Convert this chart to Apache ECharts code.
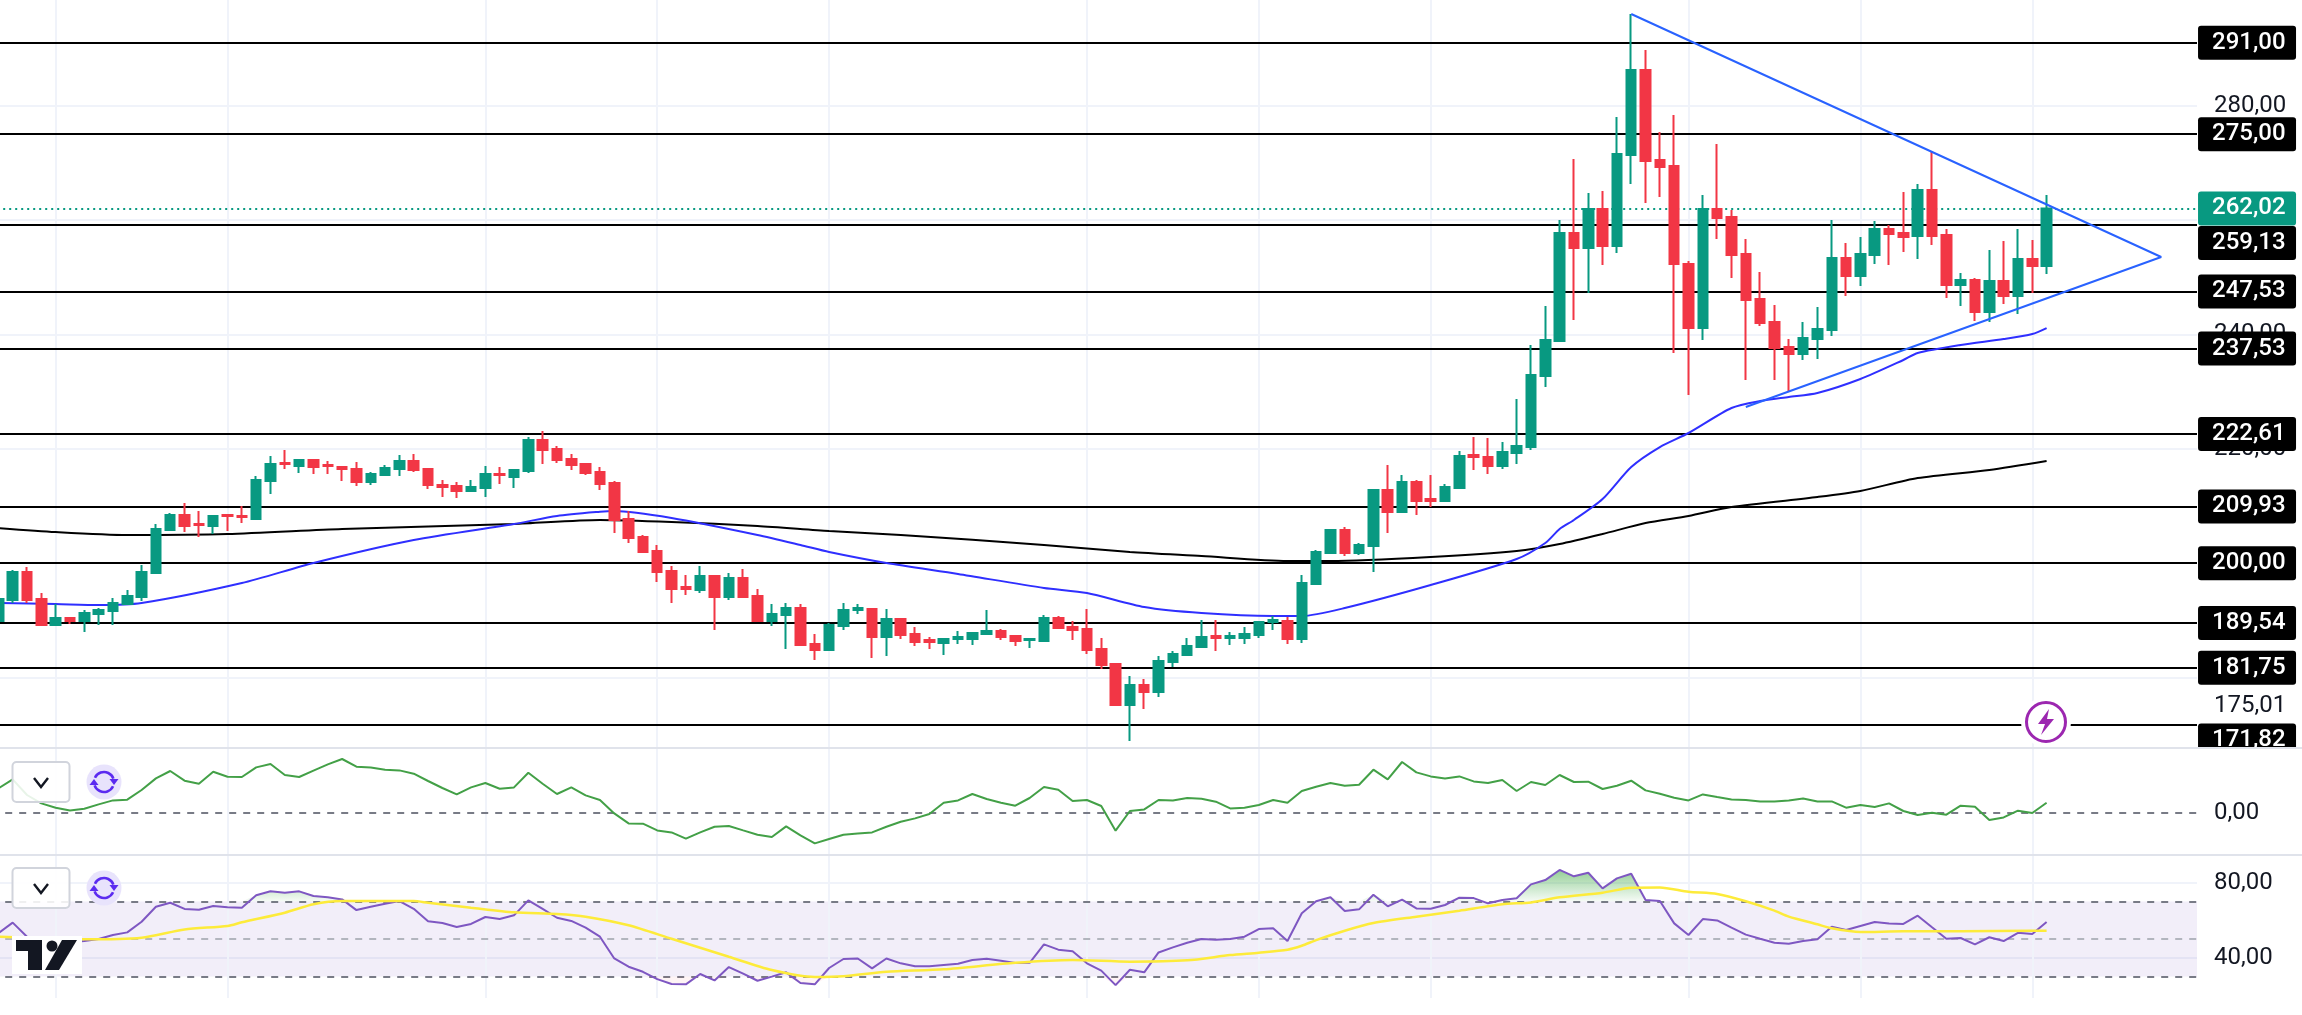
<!DOCTYPE html>
<html>
<head>
<meta charset="utf-8">
<style>html,body{margin:0;padding:0;background:#fff}#c{width:2302px;height:1015px}</style>
<script src="https://cdn.jsdelivr.net/npm/echarts@6/dist/echarts.min.js"></script>
</head>
<body>
<div id="c"></div>
<script>
const categories = Array.from({length:154},(_, i)=>String(i+1));
const opens = [189.90,193.57,198.47,193.75,189.20,190.42,189.90,191.12,191.65,192.87,194.10,198.29,205.81,208.43,206.86,206.51,208.43,208.26,207.73,214.38,
217.52,217.00,218.05,217.17,216.82,216.47,214.20,215.43,216.47,217.87,216.47,213.68,213.50,212.63,213.15,215.60,215.08,216.12,221.55,219.97,
218.23,217.35,215.95,214.03,207.73,204.59,202.14,198.64,195.84,195.32,197.77,194.10,197.42,194.27,189.90,190.95,192.17,185.88,184.83,189.03,
191.82,192.00,187.10,190.25,187.63,186.58,186.05,186.75,186.75,187.63,188.15,187.28,186.58,186.40,190.42,188.85,188.50,185.00,182.38,175.21,
178.71,177.49,182.73,183.95,185.35,187.28,186.93,186.93,187.45,189.72,189.90,186.75,196.37,201.79,205.81,201.79,203.01,212.80,208.96,214.20,
211.23,210.88,213.15,218.93,218.58,217.00,219.27,220.32,232.73,238.85,257.73,255.11,261.93,255.46,271.37,286.23,270.50,269.45,252.31,241.13,
261.93,260.53,254.06,246.20,242.17,237.80,236.58,239.20,240.78,253.36,250.22,253.89,258.43,257.73,257.21,265.25,257.38,248.64,249.52,243.92,
249.34,246.72,253.19,251.97];
const closes = [193.75,198.47,193.57,189.20,190.42,189.90,191.30,191.82,193.05,194.27,198.47,205.99,208.43,206.51,206.69,208.26,208.26,208.08,214.55,217.35,
217.35,218.05,216.82,217.00,216.47,214.20,215.60,216.65,217.87,216.30,213.68,213.33,212.63,213.33,215.60,215.43,216.30,221.55,219.80,218.05,
217.17,215.78,213.85,207.56,204.41,201.96,198.47,195.49,195.49,197.77,194.10,197.42,194.10,189.90,191.12,192.17,185.70,184.83,189.20,191.82,
192.17,187.10,190.25,187.45,186.23,186.23,186.75,187.10,187.80,188.15,187.10,186.40,186.75,190.42,188.68,188.33,184.83,182.20,175.21,178.71,
177.49,182.90,184.13,185.53,187.10,186.93,187.28,187.63,189.72,190.07,186.75,196.54,201.96,205.81,201.79,203.19,212.80,208.96,214.20,210.88,
210.88,213.33,218.75,218.58,217.00,219.45,220.50,232.91,239.03,257.73,255.11,261.93,255.46,271.55,286.23,270.32,269.27,252.31,241.13,261.93,
260.36,253.89,246.02,241.99,237.63,236.58,239.38,240.95,253.36,250.22,254.06,258.43,257.56,257.04,265.25,257.21,248.64,249.52,243.92,249.34,
246.72,253.19,251.97,262.02];
const highs = [194.10,198.82,199.34,194.80,192.87,190.60,191.82,192.17,193.92,195.32,199.69,206.86,208.78,210.53,209.13,208.43,208.43,210.00,215.25,218.75,
219.80,218.05,218.23,217.87,216.82,217.70,215.95,217.17,218.93,219.10,216.47,214.55,214.20,214.55,217.00,216.82,216.30,222.07,223.12,220.50,
219.10,217.52,216.82,214.38,209.13,204.94,203.19,199.52,197.94,199.52,197.94,198.29,198.99,195.49,192.87,193.05,192.87,187.63,189.55,193.05,
192.87,192.17,192.00,190.42,188.85,187.10,186.93,188.15,187.98,191.82,188.50,187.45,186.93,190.95,190.77,189.90,192.00,186.93,182.55,180.28,
179.76,183.78,184.65,186.93,190.07,190.07,187.98,188.85,189.72,190.77,190.60,197.94,202.31,205.99,206.34,203.54,212.97,217.17,215.43,214.55,
215.43,213.85,219.62,222.07,221.90,221.19,228.71,238.15,244.97,260.01,270.67,264.73,265.08,278.02,296.02,289.73,275.39,278.36,252.84,264.38,
273.29,261.76,256.69,250.92,245.15,239.20,242.17,244.80,260.01,255.99,257.04,259.83,259.13,264.90,266.30,272.07,258.43,250.74,249.87,254.76,
256.34,258.43,256.51,264.38];
const lows = [189.55,193.05,193.05,189.20,189.03,189.37,187.98,189.20,189.20,192.87,193.40,198.29,205.63,205.46,204.59,205.11,205.63,207.03,207.56,212.10,
216.47,215.78,215.60,215.60,214.38,213.50,213.68,215.43,215.25,215.95,212.97,211.58,211.40,212.45,211.58,213.85,213.15,215.78,217.35,217.52,
216.30,215.43,212.80,205.28,203.54,201.79,196.72,193.05,194.45,194.80,188.33,193.57,194.10,189.72,189.03,185.00,185.70,183.08,184.83,188.33,
191.12,183.43,183.78,186.75,185.53,185.00,183.95,185.88,185.70,187.45,186.58,185.53,185.18,186.23,188.68,186.58,184.13,181.51,175.21,168.92,
174.51,176.61,181.86,183.95,185.35,184.65,185.70,185.88,186.93,188.33,185.88,186.05,196.37,201.79,201.27,201.44,198.47,205.28,208.78,208.43,
209.83,210.88,213.15,216.30,215.60,216.47,217.35,219.80,230.81,238.85,242.52,247.25,252.14,254.24,266.30,262.98,264.03,236.76,229.41,239.03,
256.69,249.87,232.03,241.48,232.03,229.94,235.53,235.71,239.73,246.72,248.47,252.31,252.14,254.41,253.19,255.64,246.37,244.97,242.35,242.17,
245.32,243.57,247.25,250.57];
const ma50 = [[0,193.05],[4,192.87],[7,192.70],[10,193.05],[17,196.54],[22,200.04],[29,204.06],[36,206.86],[39,208.26],[42,209.00],[43,209.13],[47,207.91],[53,204.94],[56,203.19],[58,201.96],[62,200.04],[67,198.12],[73,195.67],[76,194.80],[80,192.35],[84,191.30],[89,190.78],[91,190.78],[94,192.17],[100,196.19],[106,200.74],[108,203.54],[109,205.99],[110,207.56],[112,211.23],[114,216.83],[116,220.32],[118,222.77],[121,227.14],[123,228.36],[125,229.06],[127,229.76],[130,232.21],[133,235.53],[134,236.76],[137,238.15],[140,239.20],[142,240.08],[143,241.12]];
const ma200 = [[0,206.16],[4,205.46],[9,204.94],[16,205.11],[24,205.99],[36,206.86],[42,207.56],[47,207.21],[53,206.51],[58,205.63],[63,204.94],[73,203.19],[79,201.96],[84,201.26],[90,200.39],[93,200.39],[100,201.09],[106,202.14],[109,203.36],[112,205.11],[115,207.03],[118,208.26],[121,209.83],[127,211.58],[130,212.63],[134,214.90],[139,216.30],[143,217.87]];
const trendLine = [[114,296.02],[151,253.54],[122,227.31]];
const levels = [291.00,275.00,259.13,247.53,237.53,222.61,209.93,200.00,189.54,181.75,171.82];
const lastPrice = 262.02;
const priceTicks = [280,240,220,175.01];
const priceGrid = [280,260,240,220,200,180];
const momentum = [24.3,33.3,17.7,9.3,5,2.3,4,8.3,12.3,13,22.7,34.3,41.7,32,29,41,36,35.7,45.3,48.7,37.7,35.7,42,48.3,53.7,46,45.3,43,42.3,39,31.7,24.7,18.3,25.3,29.7,24,25.3,40,29,18.7,25.3,17.3,12.7,-0.7,-10.7,-11,-17.7,-19.7,-26,-19.7,-14,-13.3,-17.7,-22,-24.3,-13.7,-22.7,-30.7,-26.3,-22,-20.7,-19.7,-14,-9,-5.7,-1.3,10,12.3,18.7,13.7,10,7,14.7,25.7,23,11.7,12.7,6.7,-18,1.7,3.3,12.7,12.3,14.7,14,11,4.3,5,7.7,12.7,10,21.7,26,29.7,27,28,43,33.3,50.7,40.3,36.3,34.3,36.3,31.3,29.7,32.7,21.7,30.7,27.7,37.7,30.7,31,23.7,27,32,22.3,19,15,12.3,18.3,15.7,13.3,12.7,11.3,11.3,12.3,14.3,11.3,11.3,5,7.7,5.7,9.3,1.7,-2.3,0,-2,7,6,-7.3,-4.7,2,-0.3,10];
const rsi = [53.0,58.7,51.2,49.4,48.2,48.2,48.9,50.0,52.1,53.5,59.2,67.2,69.3,66.0,65.6,67.6,66.9,66.7,73.3,75.4,74.7,75.4,72.9,72.2,71.1,65.4,67.2,68.8,70.2,66.1,59.4,58.5,56.4,58.0,61.7,60.6,62.6,70.6,66.0,61.3,59.6,56.0,51.2,39.6,35.2,32.5,28.6,26.0,25.8,31.3,27.9,35.0,31.5,27.7,29.9,32.2,26.5,25.8,34.5,39.3,39.6,34.3,39.6,37.0,35.4,35.4,36.1,36.8,38.8,39.5,38.4,37.2,37.3,47.1,44.3,43.4,37.0,33.1,25.4,33.6,32.2,42.8,45.5,48.0,50.0,49.6,50.0,51.2,55.3,55.7,48.9,63.7,70.1,72.2,64.9,65.8,73.6,67.4,71.0,66.3,66.1,68.1,72.0,71.8,69.0,70.8,71.7,79.1,81.4,86.8,83.4,85.3,77.0,82.3,84.8,70.8,70.2,58.3,52.1,60.6,59.9,56.0,52.3,50.1,48.0,47.5,48.9,49.8,56.5,54.8,56.9,59.0,58.3,58.0,62.4,56.2,50.1,50.5,47.1,50.9,48.9,53.3,52.6,59.0];
const rsiMa = [[0,51.2],[6,49.8],[10,50.7],[13,55.1],[16,56.9],[17,58.9],[20,64.0],[22,68.5],[24,70.2],[29,70.2],[30,69.3],[33,66.7],[36,64.2],[39,63.3],[41,61.9],[44,57.3],[47,50.1],[51,40.5],[54,33.4],[57,29.7],[59,30.1],[62,32.5],[66,33.8],[71,37.3],[75,38.8],[79,37.9],[83,38.6],[86,41.4],[88,42.7],[90,44.3],[91,46.4],[92,49.4],[94,54.4],[96,58.5],[99,61.9],[102,65.1],[105,68.5],[107,69.5],[109,72.2],[112,74.7],[114,77.3],[116,77.5],[118,75.2],[120,74.0],[122,70.1],[124,65.1],[125,61.9],[127,57.8],[128,55.7],[130,53.7],[133,54.1],[137,54.1],[142,54.4],[143,54.4]];
const timeMarks = [4,16,34,46,58,76,88,100,118,130,142];

const FONT='Roboto';
const fmt=v=>v.toFixed(2).replace('.',',');
const GL=-8.8, GW=2205.8;
const vGrid=timeMarks.map(i=>({xAxis:i,lineStyle:{color:'#f0f3fa',width:2,type:'solid'}}));
const xAxisOf=g=>({type:'category',gridIndex:g,data:categories,show:false,boundaryGap:true});
const yAxisOf=(g,min,max,labels,gridVals)=>({
  type:'value',gridIndex:g,position:'right',min,max,scale:true,
  axisLine:{show:false},
  axisTick:{show:false,customValues:gridVals},
  splitLine:{show:true,lineStyle:{color:'#f0f3fa',width:2}},
  axisLabel:{show:true,customValues:labels,formatter:fmt,color:'#131722',fontFamily:FONT,fontSize:24,margin:17}
});
const lvlLine=(v,c,t,w)=>({yAxis:v,lineStyle:{color:c,type:t,width:w}});

const tagData=levels.map(v=>({
  value:[153,v],
  label:{offset:[8.2,v===259.13?18:(v===171.82?16:0)]}
}));
tagData.splice(2,0,{value:[153,lastPrice],label:{offset:[8.2,0],backgroundColor:'#089981'}});

const refresh=(cx,cy)=>{
  const col='#5b2bf0';
  return [
    {type:'circle',z:101,shape:{cx,cy,r:17.5},style:{fill:'#e8e3fc'}},
    {type:'arc',z:102,shape:{cx,cy,r:10,startAngle:-2.7,endAngle:-0.35},style:{stroke:col,lineWidth:2.6,fill:null}},
    {type:'arc',z:102,shape:{cx,cy,r:10,startAngle:0.44,endAngle:2.8},style:{stroke:col,lineWidth:2.6,fill:null}},
    {type:'polygon',z:102,shape:{points:[[cx+5.5,cy-3],[cx+14.5,cy-3],[cx+10,cy+3]]},style:{fill:col}},
    {type:'polygon',z:102,shape:{points:[[cx-14.5,cy+3],[cx-5.5,cy+3],[cx-10,cy-3]]},style:{fill:col}}
  ];
};
const chevBtn=(cy)=>[
  {type:'rect',z:101,shape:{x:12.5,y:cy-20,width:57,height:40,r:4},style:{fill:'rgba(255,255,255,0.88)',stroke:'#d1d4dc',lineWidth:2}},
  {type:'polyline',z:102,shape:{points:[[34,cy-4],[41,cy+5],[48,cy-4]]},style:{stroke:'#131722',lineWidth:2.4,fill:null}}
];

const graphic=[
  {type:'rect',z:50,shape:{x:2197,y:748,width:105,height:14},style:{fill:'#fff'}},
  {type:'rect',z:51,shape:{x:0,y:747,width:2302,height:2},style:{fill:'#e0e3eb'}},
  {type:'rect',z:51,shape:{x:0,y:854,width:2302,height:2},style:{fill:'#e0e3eb'}},
  ...chevBtn(782),...refresh(104,782),
  ...chevBtn(888),...refresh(104,888),
  {type:'rect',z:103,shape:{x:12,y:936,width:70,height:38},style:{fill:'#fff'}},
  {type:'rect',z:104,shape:{x:16,y:940,width:26,height:11},style:{fill:'#131722'}},
  {type:'rect',z:104,shape:{x:28,y:940,width:14,height:30},style:{fill:'#131722'}},
  {type:'circle',z:104,shape:{cx:52,cy:946,r:5.5},style:{fill:'#131722'}},
  {type:'polygon',z:104,shape:{points:[[62,940],[77,940],[59,970],[45,970]]},style:{fill:'#131722'}},
  {type:'circle',z:60,shape:{cx:2046,cy:722,r:25},style:{fill:'#fff'}},
  {type:'circle',z:61,shape:{cx:2046,cy:722,r:19.5},style:{fill:'#fff',stroke:'#9c27b0',lineWidth:3}},
  {type:'polygon',z:62,shape:{points:[[2049,709],[2038,724],[2045,724],[2041,735],[2054,719],[2047,719]]},style:{fill:'#9c27b0'}}
];

const option={
  animation:false,
  backgroundColor:'#ffffff',
  graphic,
  grid:[
    {left:GL,width:GW,top:0,height:748,outerBoundsMode:'none'},
    {left:GL,width:GW,top:749,height:105,outerBoundsMode:'none'},
    {left:GL,width:GW,top:856,height:142,outerBoundsMode:'none'}
  ],
  xAxis:[xAxisOf(0),xAxisOf(1),xAxisOf(2)],
  yAxis:[
    yAxisOf(0,167.70,298.47,priceTicks,priceGrid),
    yAxisOf(1,-41.3,63.7,[0],[]),
    yAxisOf(2,18.51,94.24,[80,40],[80,40])
  ],
  series:[
    {name:'MA200',type:'line',xAxisIndex:0,yAxisIndex:0,z:2,data:ma200,smooth:0.25,showSymbol:false,symbol:'none',
     lineStyle:{color:'#000000',width:2},
     markLine:{z:1,silent:true,symbol:'none',label:{show:false},
       data:[...vGrid,lvlLine(lastPrice,'#089981',[2,4],2),...levels.map(v=>lvlLine(v,'#000000','solid',2))]}},
    {name:'MA50',type:'line',xAxisIndex:0,yAxisIndex:0,z:2,data:ma50,smooth:0.25,showSymbol:false,symbol:'none',
     lineStyle:{color:'#2f2fff',width:2}},
    {name:'Fiyat',type:'candlestick',xAxisIndex:0,yAxisIndex:0,z:3,barWidth:10,
     data:opens.map((o,i)=>[o,closes[i],lows[i],highs[i]]),
     itemStyle:{color:'#089981',color0:'#f23645',borderColor:'#089981',borderColor0:'#f23645',borderWidth:2}},
    {name:'Trend',type:'line',xAxisIndex:0,yAxisIndex:0,z:4,data:trendLine,showSymbol:false,symbol:'none',
     lineStyle:{color:'#2962ff',width:2}},
    {name:'Etiket',type:'scatter',xAxisIndex:0,yAxisIndex:0,z:40,clip:false,symbolSize:0,silent:true,data:tagData,
     itemStyle:{opacity:1},
     label:{show:true,opacity:1,position:'right',distance:0,formatter:p=>fmt(p.value[1]),color:'#ffffff',fontFamily:FONT,fontWeight:500,fontSize:24,
       backgroundColor:'#000000',borderRadius:3,width:84,height:34,lineHeight:34,padding:[0,0,0,14]}},
    {name:'Momentum',type:'line',xAxisIndex:1,yAxisIndex:1,z:2,data:momentum,showSymbol:false,symbol:'none',
     lineStyle:{color:'#43a047',width:2},
     markLine:{z:1,silent:true,symbol:'none',label:{show:false},data:[...vGrid,lvlLine(0,'#787b86',[7,7],2)]}},
    {name:'RSIust',type:'line',xAxisIndex:2,yAxisIndex:2,z:2,data:rsi.map(v=>Math.max(v,70)),showSymbol:false,symbol:'none',
     lineStyle:{width:0},
     areaStyle:{origin:70,opacity:1,color:{type:'linear',x:0,y:0,x2:0,y2:1,colorStops:[{offset:0,color:'rgba(76,175,80,0.6)'},{offset:1,color:'rgba(76,175,80,0.05)'}]}}},
    {name:'RSIalt',type:'line',xAxisIndex:2,yAxisIndex:2,z:2,data:rsi.map(v=>Math.min(v,30)),showSymbol:false,symbol:'none',
     lineStyle:{width:0},areaStyle:{origin:30,color:'rgba(242,54,69,0.08)'}},
    {name:'RSI',type:'line',xAxisIndex:2,yAxisIndex:2,z:3,data:rsi,showSymbol:false,symbol:'none',
     lineStyle:{color:'#7e57c2',width:2},
     markArea:{z:1,silent:true,itemStyle:{color:'rgba(126,87,194,0.1)'},data:[[{yAxis:70},{yAxis:30}]]},
     markLine:{z:1,silent:true,symbol:'none',label:{show:false},
       data:[...vGrid,lvlLine(70,'#787b86',[7,7],2),lvlLine(50,'#b2b5be',[7,7],2),lvlLine(30,'#787b86',[7,7],2)]}},
    {name:'RSI MA',type:'line',xAxisIndex:2,yAxisIndex:2,z:4,data:rsiMa,smooth:0.25,showSymbol:false,symbol:'none',
     lineStyle:{color:'#fdeb3a',width:2.5}}
  ]
};
const chart=echarts.init(document.getElementById('c'),null,{renderer:'canvas',width:2302,height:1015});
chart.setOption(option);
</script>
</body>
</html>
